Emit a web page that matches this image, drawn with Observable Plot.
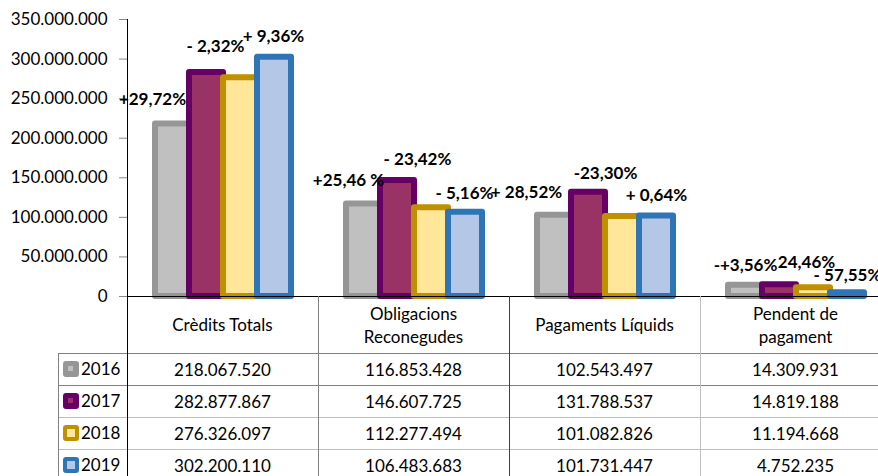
<!DOCTYPE html>
<html><head><meta charset="utf-8">
<script src="https://cdn.jsdelivr.net/npm/d3@7"></script>
<script src="https://cdn.jsdelivr.net/npm/@observablehq/plot@0.6"></script>
<style>
html,body{margin:0;padding:0;background:#fff;}
#wrap{position:relative;width:878px;height:476px;overflow:hidden;font-family:Lato,sans-serif;color:#000;}
#wrap svg{position:absolute;left:0;top:0;max-width:none!important;}
.cell{position:absolute;display:flex;align-items:center;justify-content:center;text-align:center;font-size:17px;line-height:23px;white-space:pre-line;}
.line{position:absolute;}
.sw{position:absolute;width:16px;height:16px;border-radius:3px;box-sizing:border-box;}
.yr{position:absolute;font-size:17px;line-height:32px;}
</style></head><body><div id="wrap"></div>
<script>
// ---- data ----
const categories = ["Crèdits Totals", "Obligacions Reconegudes", "Pagaments Líquids", "Pendent de pagament"];
const headerLabels = ["Crèdits Totals", "Obligacions\nReconegudes", "Pagaments Líquids", "Pendent de\npagament"];
const years = ["2016", "2017", "2018", "2019"];
const values2016 = [218067520, 116853428, 102543497, 14309931];
const values2017 = [282877867, 146607725, 131788537, 14819188];
const values2018 = [276326097, 112277494, 101082826, 11194668];
const values2019 = [302200110, 106483683, 101731447, 4752235];
const yTicks = [0, 50000000, 100000000, 150000000, 200000000, 250000000, 300000000, 350000000];
const labelCategory = [0, 0, 0, 1, 1, 1, 2, 2, 2, 3, 3, 3];
const labelYear = ["2017", "2018", "2019", "2017", "2018", "2019", "2017", "2018", "2019", "2017", "2018", "2019"];
const labelText = ["+29,72%", "- 2,32%", "+ 9,36%", "+25,46 %", "- 23,42%", "- 5,16%", "+ 28,52%", "-23,30%", "+ 0,64%", "-+3,56%", "24,46%", "- 57,55%"];

// ---- styles ----
const fillColors = ["#c0c0c0", "#993366", "#ffe699", "#b4c7e7"];
const strokeColors = ["#969696", "#660066", "#bf9000", "#2e75b6"];
const swatchInner = [5, 5, 8, 8];
const labelOffsets = [[-54, 27], [-25, -31], [-1, -21], [-49, 0], [-14, -48], [-1, -19], [-62, 0], [-17, -43], [0, -20], [-34, -19], [-7, -25], [0, -17]];

const seriesValues = [values2016, values2017, values2018, values2019];
const bars = categories.flatMap((c, i) => years.map((y, k) => ({category: c, year: y, k, value: seriesValues[k][i]})));
const fmt = d3.formatLocale({decimal: ",", thousands: ".", grouping: [3], currency: ["", ""]}).format(",d");

const labelMarks = labelText.map((t, j) => {
  const k = years.indexOf(labelYear[j]);
  const ci = labelCategory[j];
  return Plot.text([{category: categories[ci], year: labelYear[j], value: seriesValues[k][ci], text: t}], {
    fx: "category", x: "year", y: "value", text: "text",
    dx: labelOffsets[j][0], dy: labelOffsets[j][1],
    fontWeight: "bold", fontSize: 17, fill: "#000"
  });
});

const chart = Plot.plot({
  width: 891, height: 297,
  marginLeft: 127, marginRight: 0, marginTop: 19, marginBottom: 1,
  style: {fontFamily: "Lato, sans-serif", fontSize: "17px", color: "#000", background: "transparent", overflow: "visible", maxWidth: "none"},
  fx: {domain: categories, padding: 0, axis: null},
  x: {domain: years, paddingInner: 0, paddingOuter: 0.75, axis: null},
  y: {domain: [0, 350000000]},
  color: {type: "identity"},
  marks: [
    Plot.barY(bars, {fx: "category", x: "year", y: "value",
      fill: d => fillColors[d.k], stroke: d => strokeColors[d.k],
      strokeWidth: 6, strokeLinejoin: "round"}),
    Plot.ruleY([0], {stroke: "#000", strokeWidth: 1}),
    Plot.axisY({ticks: yTicks, tickFormat: fmt, tickSize: 8, tickPadding: 12, fontSize: 17, label: null, stroke: "#888", fill: "#000"}),
    Plot.frame({anchor: "left", facetAnchor: "left", stroke: "#000"}),
    ...labelMarks
  ]
});

const wrap = document.getElementById("wrap");
wrap.appendChild(chart);

// ---- data table below the chart, aligned on the chart's fx scale ----
const fxS = chart.scale("fx");
const yS = chart.scale("y");
const top0 = Math.round(yS.apply(0));
const bw = fxS.bandwidth;
const headerH = 57, rowH = 32;
const legendLeft = 58;
const tableRight = 891;
const W = d3.select(wrap);

function line(x, y, w, h, color) {
  W.append("div").attr("class", "line")
    .style("left", x + "px").style("top", y + "px")
    .style("width", w + "px").style("height", h + "px")
    .style("background", color);
}
// horizontal row lines
const hColors = ["#808080", "#808080", "#bfbfbf", "#bfbfbf"];
years.forEach((y, r) => line(legendLeft, top0 + headerH + r * rowH, tableRight - legendLeft, 1, hColors[r]));
// vertical lines
const vColors = ["#000", "#808080", "#404040", "#bfbfbf"];
categories.forEach((c, i) => line(Math.floor(fxS.apply(c)), top0, 1, 200, vColors[i]));
line(legendLeft, top0 + headerH, 1, 200, "#808080");

// header cells
categories.forEach((c, i) => {
  W.append("div").attr("class", "cell")
    .style("left", fxS.apply(c) + "px").style("top", top0 + "px")
    .style("width", bw + "px").style("height", headerH + "px")
    .text(headerLabels[i]);
});
// value rows
years.forEach((y, r) => {
  const rt = top0 + headerH + r * rowH;
  categories.forEach((c, i) => {
    W.append("div").attr("class", "cell")
      .style("left", fxS.apply(c) + "px").style("top", rt + "px")
      .style("width", bw + "px").style("height", rowH + "px")
      .text(fmt(seriesValues[r][i]));
  });
  const inner = swatchInner[r];
  W.append("div").attr("class", "sw")
    .style("left", "63px").style("top", (rt + 8) + "px")
    .style("background", strokeColors[r])
    .style("border", ((16 - inner) / 2) + "px solid " + strokeColors[r])
    .append("div").style("width", inner + "px").style("height", inner + "px")
    .style("background", fillColors[r]);
  W.append("div").attr("class", "yr")
    .style("left", "81px").style("top", rt + "px")
    .text(y);
});
</script></body></html>
